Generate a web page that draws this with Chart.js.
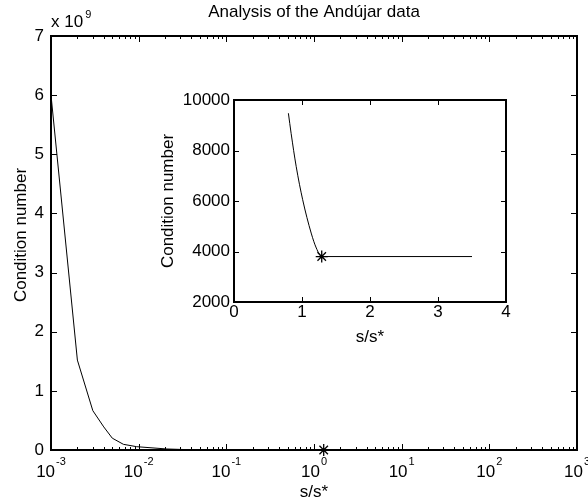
<!DOCTYPE html>
<html><head><meta charset="utf-8">
<script src="https://cdn.jsdelivr.net/npm/chart.js@4/dist/chart.umd.min.js"></script>
<style>
html,body{margin:0;padding:0;background:#fff;}
#wrap{position:relative;width:588px;height:503px;overflow:hidden;}
#main{position:absolute;left:0;top:0;}
#inset{position:absolute;left:150px;top:85px;}
</style></head><body>
<div id="wrap">
<canvas id="main" width="588" height="503"></canvas>
<canvas id="inset" width="370" height="270"></canvas>
</div>
<script>
// ---- texts ----
const chartTitle = 'Analysis of the Andújar data';
const xTitle = 's/s*';
const yTitle = 'Condition number';
const yMultiplierBase = 'x 10';
const yMultiplierExp = '9';

// ---- data (s/s*, condition number) ----
const earlyS    = [0.001, 0.002, 0.003, 0.004, 0.005, 0.0067, 0.0095, 0.021, 0.04, 0.1, 0.3];
const earlyCond = [6.0e9, 1.52e9, 0.665e9, 0.39e9, 0.2e9, 0.096e9, 0.056e9, 0.017e9, 0.004e9, 0.0006e9, 0.00005e9];
const insetS    = [0.80, 0.84, 0.915, 1.01, 1.135, 1.21, 1.29, 3.5];
const insetCond = [9475, 8680, 7360, 6050, 4730, 4140, 3800, 3800];
const minS      = [1.29];
const minCond   = [3800];

// ---- ticks ----
const mainXExponents = [-3, -2, -1, 0, 1, 2, 3];
const mainXMinorMult = [2, 3, 4, 5, 6, 7, 8, 9];
const mainYTicks  = [0, 1e9, 2e9, 3e9, 4e9, 5e9, 6e9, 7e9];
const mainYLabels = ['0', '1', '2', '3', '4', '5', '6', '7'];
const insetXTicks  = [0, 1, 2, 3, 4];
const insetXLabels = ['0', '1', '2', '3', '4'];
const insetYTicks  = [2000, 4000, 6000, 8000, 10000];
const insetYLabels = ['2000', '4000', '6000', '8000', '10000'];

const FAM = '"Liberation Sans", Arial, Helvetica, sans-serif';
Chart.defaults.font.family = FAM;
Chart.defaults.color = '#000';

function pts(xs, ys) { return xs.map((x, i) => ({x: x, y: ys[i]})); }

const mainS = earlyS.concat(insetS);
const mainCond = earlyCond.concat(insetCond);

function drawRotated(ctx, text, x, y) {
  ctx.save(); ctx.translate(x, y); ctx.rotate(-Math.PI / 2);
  ctx.textAlign = 'center'; ctx.textBaseline = 'alphabetic';
  ctx.fillText(text, 0, 0); ctx.restore();
}

const mainDeco = {
  id: 'mainDeco',
  afterDraw(chart) {
    const {ctx, chartArea: a, scales: {x, y}} = chart;
    ctx.save();
    ctx.strokeStyle = '#000'; ctx.fillStyle = '#000';
    ctx.lineWidth = 1;
    ctx.beginPath();
    mainXExponents.forEach(e => {
      const vals = [Math.pow(10, e)];
      if (e < 3) mainXMinorMult.forEach(m => vals.push(m * Math.pow(10, e)));
      vals.forEach((v, i) => {
        const px = Math.round(x.getPixelForValue(v)) + 0.5;
        const L = i === 0 ? 6 : 3;
        ctx.moveTo(px, a.bottom); ctx.lineTo(px, a.bottom - L);
        ctx.moveTo(px, a.top); ctx.lineTo(px, a.top + L);
      });
    });
    mainYTicks.forEach(v => {
      const py = Math.round(y.getPixelForValue(v)) + 0.5;
      ctx.moveTo(a.left, py); ctx.lineTo(a.left + 6, py);
      ctx.moveTo(a.right, py); ctx.lineTo(a.right - 6, py);
    });
    ctx.stroke();
    ctx.lineWidth = 2;
    ctx.strokeRect(a.left, a.top, a.right - a.left, a.bottom - a.top);

    // x tick labels 10^e
    const big = '17px ' + FAM, sup = '11px ' + FAM;
    ctx.textBaseline = 'alphabetic'; ctx.textAlign = 'left';
    mainXExponents.forEach(e => {
      const px = x.getPixelForValue(Math.pow(10, e));
      ctx.font = big; const wb = ctx.measureText('10').width;
      ctx.font = sup; const es = String(e); const ws = ctx.measureText(es).width;
      const start = px - (wb + ws + 1) / 2;
      ctx.font = big; ctx.fillText('10', start, 477);
      ctx.font = sup; ctx.fillText(es, start + wb + 1, 465);
    });
    // multiplier
    ctx.font = big; ctx.fillText(yMultiplierBase, a.left, 27);
    const wm = ctx.measureText(yMultiplierBase).width;
    ctx.font = sup; ctx.fillText(yMultiplierExp, a.left + wm + 2, 18);
    // title
    ctx.font = big; ctx.textAlign = 'center';
    ctx.fillText(chartTitle, (a.left + a.right) / 2, 17);
    ctx.fillText(xTitle, (a.left + a.right) / 2, 497);
    drawRotated(ctx, yTitle, 26, 235);
    ctx.restore();
  }
};

new Chart(document.getElementById('main'), {
  type: 'scatter',
  data: {
    datasets: [
      {data: pts(mainS, mainCond), showLine: true, borderColor: '#000', borderWidth: 1, pointRadius: 0, fill: false, tension: 0},
      {data: pts(minS, minCond), showLine: false, pointStyle: 'star', pointRadius: 6, borderColor: '#000', backgroundColor: '#000', pointBorderWidth: 1.3, clip: false}
    ]
  },
  options: {
    responsive: false, animation: false,
    layout: {padding: {left: 0, top: 36, right: 11, bottom: 0}},
    plugins: {legend: {display: false}, tooltip: {enabled: false}, title: {display: false}},
    scales: {
      x: {type: 'logarithmic', min: 1e-3, max: 1e3,
          grid: {display: false, drawTicks: false}, border: {display: false},
          ticks: {display: false},
          afterFit: s => { s.height = 53; }},
      y: {type: 'linear', min: 0, max: 7e9,
          grid: {display: false, drawTicks: false}, border: {display: false},
          afterBuildTicks: s => { s.ticks = mainYTicks.map(v => ({value: v})); },
          ticks: {padding: 7, font: {size: 17}, color: '#000', callback: (v, i) => mainYLabels[i]},
          afterFit: s => { s.width = 51; }}
    }
  },
  plugins: [mainDeco]
});

const insetDeco = {
  id: 'insetDeco',
  beforeDatasetsDraw(chart) {
    const {ctx, chartArea: a} = chart;
    ctx.save(); ctx.fillStyle = '#fff';
    ctx.fillRect(a.left, a.top, a.right - a.left, a.bottom - a.top);
    ctx.restore();
  },
  afterDraw(chart) {
    const {ctx, chartArea: a, scales: {x, y}} = chart;
    ctx.save();
    ctx.strokeStyle = '#000'; ctx.fillStyle = '#000'; ctx.lineWidth = 1;
    ctx.beginPath();
    insetXTicks.forEach(v => {
      const px = Math.round(x.getPixelForValue(v)) + 0.5;
      ctx.moveTo(px, a.bottom); ctx.lineTo(px, a.bottom - 5);
      ctx.moveTo(px, a.top); ctx.lineTo(px, a.top + 5);
    });
    insetYTicks.forEach(v => {
      const py = Math.round(y.getPixelForValue(v)) + 0.5;
      ctx.moveTo(a.left, py); ctx.lineTo(a.left + 5, py);
      ctx.moveTo(a.right, py); ctx.lineTo(a.right - 5, py);
    });
    ctx.stroke();
    ctx.lineWidth = 2;
    ctx.strokeRect(a.left, a.top, a.right - a.left, a.bottom - a.top);
    ctx.font = '17px ' + FAM; ctx.textAlign = 'center'; ctx.textBaseline = 'alphabetic';
    insetXTicks.forEach((v, i) => {
      ctx.fillText(insetXLabels[i], x.getPixelForValue(v), a.bottom + 15);
    });
    ctx.fillText(xTitle, (a.left + a.right) / 2, a.bottom + 40);
    drawRotated(ctx, yTitle, 23, (a.top + a.bottom) / 2);
    ctx.restore();
  }
};

new Chart(document.getElementById('inset'), {
  type: 'scatter',
  data: {
    datasets: [
      {data: pts(insetS, insetCond), showLine: true, borderColor: '#000', borderWidth: 1, pointRadius: 0, fill: false, cubicInterpolationMode: 'monotone'},
      {data: pts(minS, minCond), showLine: false, pointStyle: 'star', pointRadius: 6, borderColor: '#000', backgroundColor: '#000', pointBorderWidth: 1.3, clip: false}
    ]
  },
  options: {
    responsive: false, animation: false,
    layout: {padding: {left: 0, top: 15, right: 14, bottom: 0}},
    plugins: {legend: {display: false}, tooltip: {enabled: false}, title: {display: false}},
    scales: {
      x: {type: 'linear', min: 0, max: 4,
          grid: {display: false, drawTicks: false}, border: {display: false},
          ticks: {display: false},
          afterFit: s => { s.height = 53; }},
      y: {type: 'linear', min: 2000, max: 10000,
          grid: {display: false, drawTicks: false}, border: {display: false},
          afterBuildTicks: s => { s.ticks = insetYTicks.map(v => ({value: v})); },
          ticks: {padding: 4, font: {size: 17}, color: '#000', callback: (v, i) => insetYLabels[i]},
          afterFit: s => { s.width = 84; }}
    }
  },
  plugins: [insetDeco]
});
</script>
</body></html>
